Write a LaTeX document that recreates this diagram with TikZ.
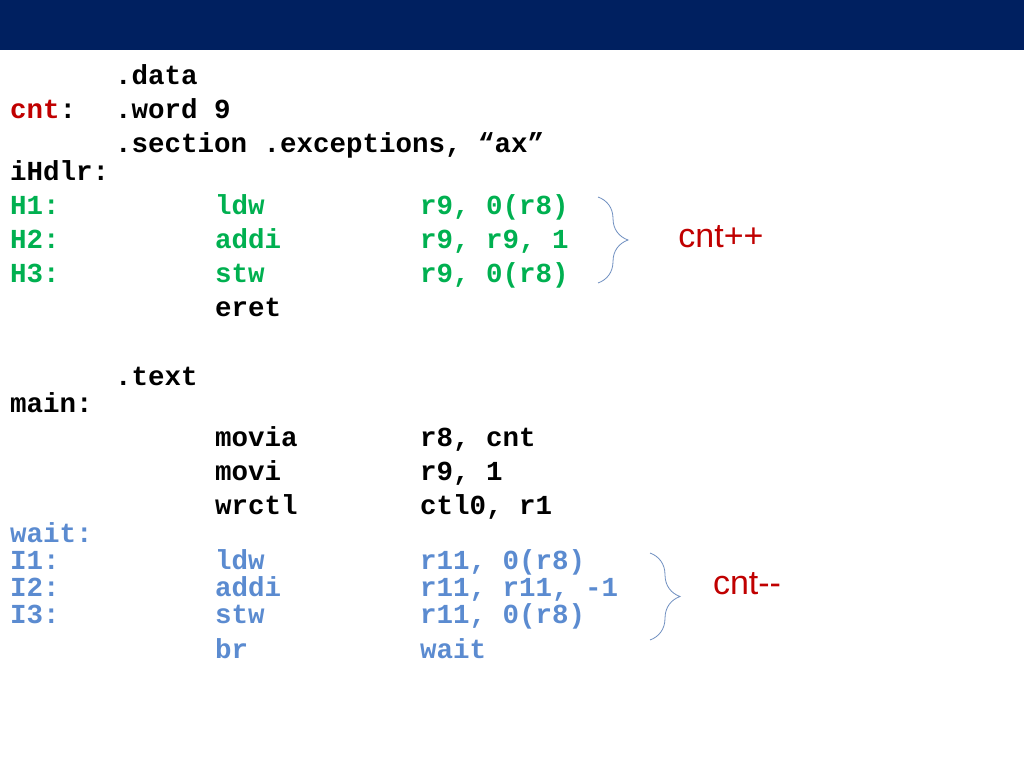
\documentclass[tikz,border=0pt]{standalone}
\usepackage{fontspec}
\setmonofont{Liberation Mono}
\setsansfont{Liberation Sans}
\usetikzlibrary{decorations.pathreplacing}
\definecolor{navy}{HTML}{002060}
\definecolor{cg}{HTML}{00B050}
\definecolor{cb}{HTML}{5B8BD0}
\definecolor{cr}{HTML}{C00000}
\definecolor{br}{HTML}{6F8FC0}
\begin{document}
\begin{tikzpicture}[x=1pt,y=-1pt,
 code/.style={anchor=mid west,inner sep=0pt,font=\ttfamily\bfseries\fontsize{27.5}{30}\selectfont},
 lbl/.style={inner sep=0pt,font=\sffamily\fontsize{34}{38}\selectfont,text=cr},
 brc/.style={draw=br,line width=0.8pt,decorate,decoration={brace,amplitude=30pt,aspect=0.5}}]
\useasboundingbox (0,0) rectangle (1024,768);
\fill[navy] (0,0) rectangle (1024,50);
\begin{scope}[yshift=-5pt]
\node[code] (d1) at (115,77) {.data};
\node[code] (c1) at (10,111) {\textcolor{cr}{cnt}:};
\node[code] (d2) at (115,111) {.word 9};
\node[code] (d3) at (115,145) {.section .exceptions, “ax”};
\node[code] (ih) at (10,173) {iHdlr:};
\begin{scope}[every node/.append style={text=cg}]
\node[code] (h1) at (10,207) {H1:};
\node[code] (h1i) at (215,207) {ldw};
\node[code] (h1o) at (420,207) {r9, 0(r8)};
\node[code] (h2) at (10,241) {H2:};
\node[code] (h2i) at (215,241) {addi};
\node[code] (h2o) at (420,241) {r9, r9, 1};
\node[code] (h3) at (10,275) {H3:};
\node[code] (h3i) at (215,275) {stw};
\node[code] (h3o) at (420,275) {r9, 0(r8)};
\end{scope}
\node[code] (er) at (215,309) {eret};
\node[code] (tx) at (115,378) {.text};
\node[code] (mn) at (10,405) {main:};
\node[code] (m1) at (215,439) {movia};
\node[code] (m1o) at (420,439) {r8, cnt};
\node[code] (m2) at (215,473) {movi};
\node[code] (m2o) at (420,473) {r9, 1};
\node[code] (m3) at (215,507) {wrctl};
\node[code] (m3o) at (420,507) {ctl0, r1};
\begin{scope}[every node/.append style={text=cb}]
\node[code] (wt) at (10,535) {wait:};
\node[code] (i1) at (10,562) {I1:};
\node[code] (i1i) at (215,562) {ldw};
\node[code] (i1o) at (420,562) {r11, 0(r8)};
\node[code] (i2) at (10,589) {I2:};
\node[code] (i2i) at (215,589) {addi};
\node[code] (i2o) at (420,589) {r11, r11, -1};
\node[code] (i3) at (10,616) {I3:};
\node[code] (i3i) at (215,616) {stw};
\node[code] (i3o) at (420,616) {r11, 0(r8)};
\node[code] (bi) at (215,651) {br};
\node[code] (bo) at (420,651) {wait};
\end{scope}
\end{scope}
\coordinate (b1a) at (598,197);
\coordinate (b1b) at (598,283);
\coordinate (b2a) at (650,553);
\coordinate (b2b) at (650,640);
\draw[brc] (b1a) -- (b1b);
\draw[brc] (b2a) -- (b2b);
\node[lbl] (l1) at (721,237) {cnt++};
\node[lbl] (l2) at (747,584) {cnt-{}-};
\end{tikzpicture}
\end{document}
